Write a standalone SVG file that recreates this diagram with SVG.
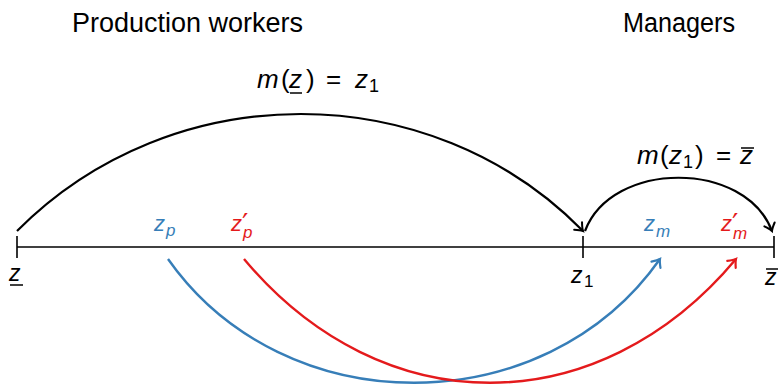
<svg xmlns="http://www.w3.org/2000/svg" width="781" height="385" viewBox="0 0 781 385">
<style>
.t{font-family:"Liberation Sans","DejaVu Sans",sans-serif;fill:#000}
.it{font-family:"Liberation Sans","DejaVu Sans",sans-serif;font-style:italic}
.up{font-family:"Liberation Sans","DejaVu Sans",sans-serif;font-style:normal}
.pr{font-family:"DejaVu Sans",sans-serif;font-style:normal}
.blue{fill:#377eb8}
.red{fill:#e41a1c}
.blk{fill:#000}
.ax{stroke:#000;stroke-width:1.6;fill:none}
.arcB{stroke:#000;stroke-width:2.2;fill:none}
.cb{stroke:#377eb8;stroke-width:2.4;fill:none}
.cr{stroke:#e41a1c;stroke-width:2.4;fill:none}
.bar{stroke:#000;stroke-width:1.5}
</style>
<defs>
<marker id="ak" markerUnits="userSpaceOnUse" markerWidth="20" markerHeight="20" viewBox="-10 -10 20 20" refX="0" refY="0" orient="auto">
<path d="M-7,-5.5 Q-2.5,-1.2 0,0 Q-2.5,1.2 -7,5.5" fill="none" stroke="#000" stroke-width="2" stroke-linecap="round"/>
</marker>
<marker id="ab" markerUnits="userSpaceOnUse" markerWidth="20" markerHeight="20" viewBox="-10 -10 20 20" refX="0" refY="0" orient="auto">
<path d="M-7,-5.5 Q-2.5,-1.2 0,0 Q-2.5,1.2 -7,5.5" fill="none" stroke="#377eb8" stroke-width="2.2" stroke-linecap="round"/>
</marker>
<marker id="ar" markerUnits="userSpaceOnUse" markerWidth="20" markerHeight="20" viewBox="-10 -10 20 20" refX="0" refY="0" orient="auto">
<path d="M-7,-5.5 Q-2.5,-1.2 0,0 Q-2.5,1.2 -7,5.5" fill="none" stroke="#e41a1c" stroke-width="2.2" stroke-linecap="round"/>
</marker>
</defs>

<g id="headings">
<text class="t" x="72" y="32" font-size="27" textLength="231" lengthAdjust="spacingAndGlyphs">Production workers</text>
<text class="t" x="623" y="32" font-size="27" textLength="112" lengthAdjust="spacingAndGlyphs">Managers</text>
</g>

<g id="axis">
<line class="ax" x1="17" y1="247" x2="774" y2="247"/>
<line class="ax" x1="17" y1="236" x2="17" y2="258"/>
<line class="ax" x1="583" y1="236" x2="583" y2="258"/>
<line class="ax" x1="774" y1="236" x2="774" y2="258"/>
</g>

<g id="connectors">
<path class="arcB" d="M17,231 C172,75 430,75 583,231" marker-end="url(#ak)"/>
<path class="arcB" d="M585,231 C612,160 745,160 772,231" marker-end="url(#ak)"/>
<path class="cb" d="M168,259 C284,424 544,424 660,259" marker-end="url(#ab)"/>
<path class="cr" d="M244,259 C382,424 598,424 736,259" marker-end="url(#ar)"/>
</g>

<g id="label-m-low">
<text class="blk" font-size="26"><tspan class="it" x="257" y="88">m</tspan><tspan class="up" x="281" y="88">(</tspan><tspan class="it" x="289" y="88">z</tspan><tspan class="up" x="306" y="88">)</tspan><tspan class="up" x="326" y="88">=</tspan><tspan class="it" x="355" y="88">z</tspan><tspan class="up" x="369" y="92" font-size="18">1</tspan></text>
<line class="bar" x1="290" y1="93" x2="302" y2="93"/>
</g>

<g id="label-m-z1">
<text class="blk" font-size="26"><tspan class="it" x="637" y="164">m</tspan><tspan class="up" x="660" y="164">(</tspan><tspan class="it" x="669" y="164">z</tspan><tspan class="up" x="683" y="168" font-size="18">1</tspan><tspan class="up" x="695" y="164">)</tspan><tspan class="up" x="716" y="164">=</tspan><tspan class="it" x="740" y="164">z</tspan></text>
<line class="bar" x1="741" y1="148" x2="754" y2="148"/>
</g>

<g id="zp">
<text class="blue" font-size="22"><tspan class="it" x="154" y="231">z</tspan><tspan class="it" x="166" y="236" font-size="17">p</tspan></text>
</g>
<g id="zp-prime">
<text class="red" font-size="22"><tspan class="it" x="231" y="231">z</tspan><tspan class="pr" x="242" y="234" font-size="28">′</tspan><tspan class="it" x="243" y="238" font-size="17">p</tspan></text>
</g>
<g id="zm">
<text class="blue" font-size="22"><tspan class="it" x="644" y="231">z</tspan><tspan class="it" x="656" y="237" font-size="17">m</tspan></text>
</g>
<g id="zm-prime">
<text class="red" font-size="22"><tspan class="it" x="721" y="231">z</tspan><tspan class="pr" x="732" y="234" font-size="28">′</tspan><tspan class="it" x="733" y="239" font-size="17">m</tspan></text>
</g>

<g id="z-low">
<text class="it blk" x="9" y="281" font-size="23">z</text>
<line class="bar" x1="10" y1="285" x2="23" y2="285"/>
</g>
<g id="z1">
<text class="blk" font-size="23"><tspan class="it" x="571" y="283">z</tspan><tspan class="up" x="584" y="287" font-size="17">1</tspan></text>
</g>
<g id="z-high">
<text class="it blk" x="765" y="285" font-size="23">z</text>
<line class="bar" x1="766" y1="269" x2="778" y2="269"/>
</g>
</svg>
